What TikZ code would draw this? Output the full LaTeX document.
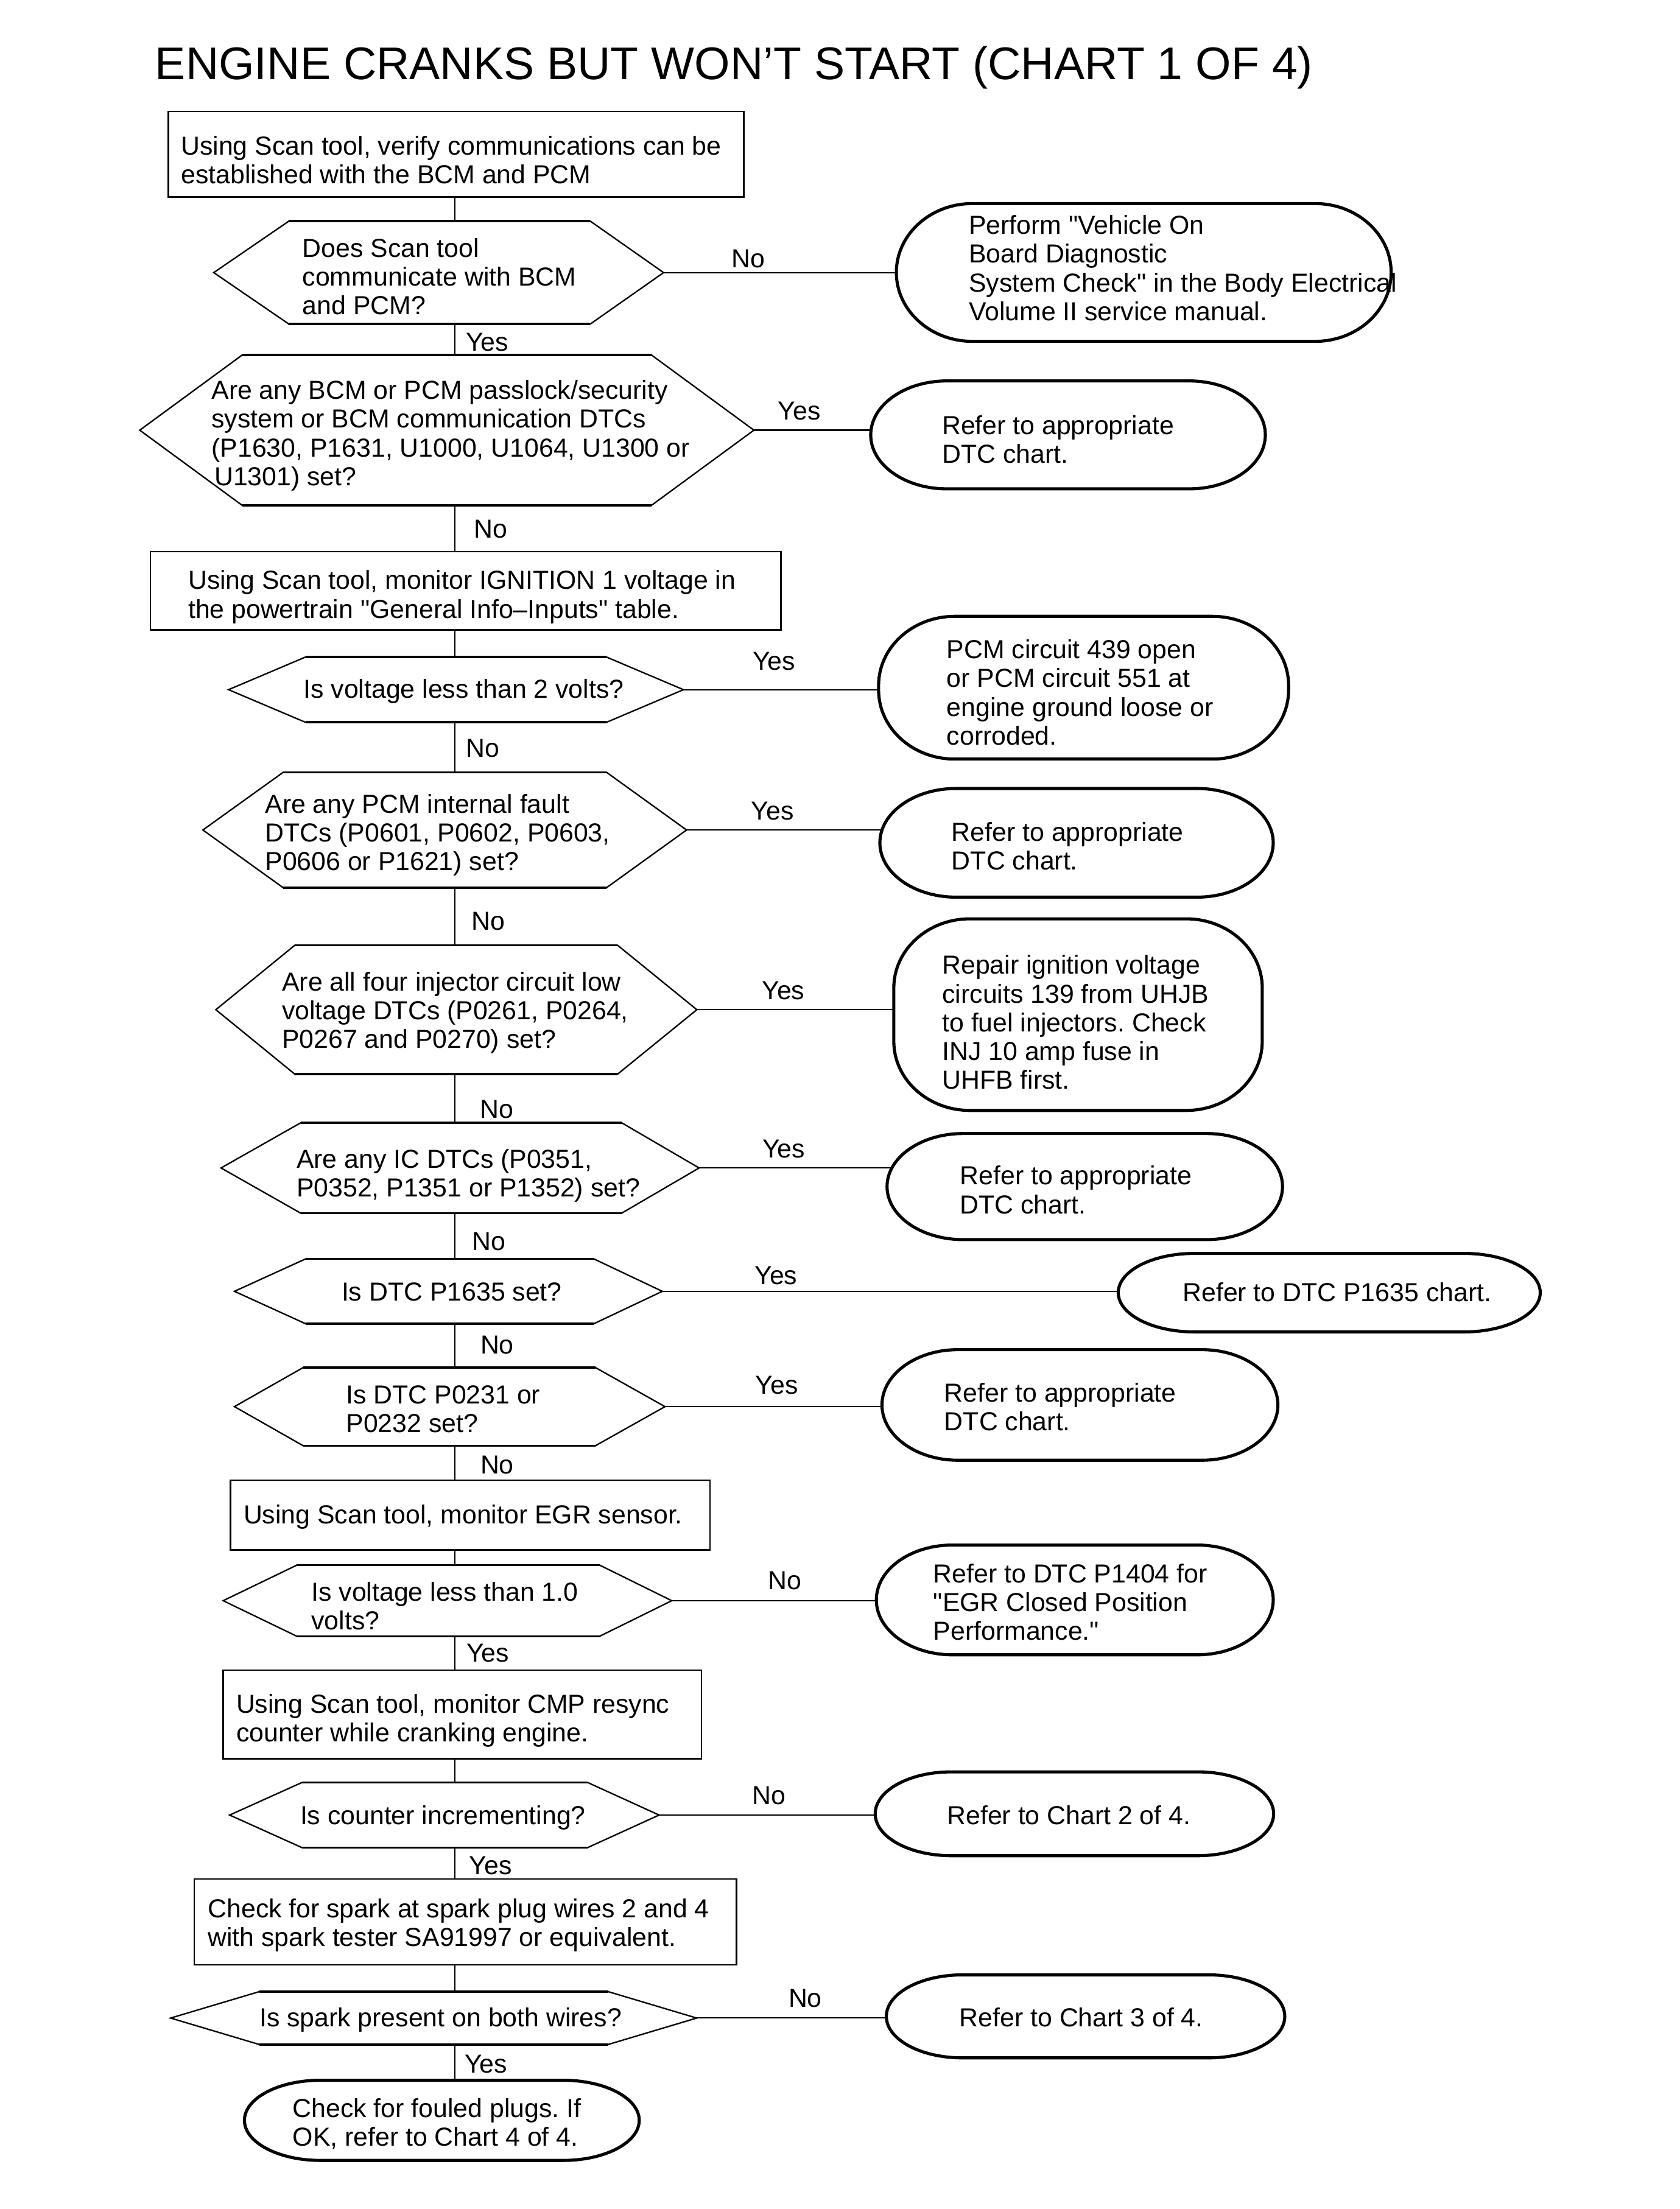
\documentclass[tikz,border=0pt]{standalone}
\usepackage{fontspec}
\setmainfont{Liberation Sans}[Ligatures=TeXOff]
\frenchspacing
\newcommand\myBody{\fontsize{18.5}{20.4}\selectfont\frenchspacing}
\newcommand\myTitle{\fontsize{32.5}{38}\selectfont}
\tikzset{
  conn/.style={line width=0.9pt},
  rectbox/.style={draw, line width=1.1pt, inner sep=0pt, outer sep=0pt},
  hexcore/.style={inner sep=0pt, outer sep=0pt},
  hexline/.style={line width=1pt, line join=miter},
  hexedge/.style={line width=1.6pt},
  termcore/.style={inner sep=0pt, outer sep=0pt},
  termline/.style={line width=2.2pt},
  txt/.style={font=\myBody, align=left, inner sep=0pt, anchor=base west},
  lbl/.style={font=\myBody, inner sep=0pt, anchor=base west},
  ttl/.style={font=\myTitle, inner sep=0pt, anchor=base west},
}
\newcommand\hexdraw[1]{%
  \draw[hexline] (#1.north west) -- (#1.north east) -- (#1e) -- (#1.south east)
     -- (#1.south west) -- (#1w) -- cycle;
  \draw[hexedge] (#1.north west) -- (#1.north east) (#1.south west) -- (#1.south east);}
\newcommand\termdraw[3]{%
  \draw[termline] ([xshift=#2]#1.north west) -- ([xshift=-#2]#1.north east)
    arc[start angle=90, end angle=0, x radius=#2, y radius=#3]
    -- ([yshift=#3]#1.south east)
    arc[start angle=0, end angle=-90, x radius=#2, y radius=#3]
    -- ([xshift=#2]#1.south west)
    arc[start angle=270, end angle=180, x radius=#2, y radius=#3]
    -- ([yshift=-#3]#1.north west)
    arc[start angle=180, end angle=90, x radius=#2, y radius=#3]
    -- cycle;}
\begin{document}
\begin{tikzpicture}[x=1pt, y=-1pt]
\fill[white] (0,0) rectangle (1192,1568);
\useasboundingbox (0,0) rectangle (1192,1568);
\coordinate (spine) at (322.8,0);

\node[ttl] (title) at (110,56.5) {ENGINE CRANKS BUT WON’T START (CHART 1 OF 4)};

% ---- box 1
\node[rectbox, minimum width=408.6, minimum height=60.8] (b1) at (323.7,109.4) {};
\node[txt] (b1t) at (128.3,130.3) {Using Scan tool, verify communications can be\\established with the BCM and PCM};

% ---- hex 1
\node[hexcore, minimum width=214, minimum height=73] (h1) at (312,193.5) {};
\coordinate (h1w) at (151.7,193.5); \coordinate (h1e) at (471,193.5);
\hexdraw{h1}
\node[txt] (h1t) at (214.5,223.3) {Does Scan tool\\communicate with BCM\\and PCM?};

\node[termcore, minimum width=351.2, minimum height=97.8] (t1) at (811.8,193.4) {};
\termdraw{t1}{54pt}{48.9pt}
\node[txt] (t1t) at (687.5,227.5) {Perform "Vehicle On\\Board Diagnostic\\System Check" in the Body Electrical\\Volume II service manual.};
\draw[conn] (h1e) -- ([xshift=1pt]h1e -| t1.west);
\node[lbl] (l1) at (519,190.1) {No};

% ---- hex 2
\node[hexcore, minimum width=290.5, minimum height=106.7] (h2) at (317.15,305.35) {};
\coordinate (h2w) at (99.2,305.35); \coordinate (h2e) at (535.1,305.35);
\hexdraw{h2}
\node[txt] (h2t) at (150,344.6) {Are any BCM or PCM passlock/security\\system or BCM communication DTCs\\(P1630, P1631, U1000, U1064, U1300 or\\\hspace*{2pt}U1301) set?};

\node[termcore, minimum width=280.1, minimum height=76.6] (t2) at (758.05,308.7) {};
\termdraw{t2}{54pt}{38.3pt}
\node[txt] (t2t) at (668.5,328.6) {Refer to appropriate\\DTC chart.};
\draw[conn] (h2e) -- ([xshift=1pt]h2e -| t2.west);
\node[lbl] (l2) at (552,298.2) {Yes};

% ---- box 3
\node[rectbox, minimum width=447.5, minimum height=55.5] (b3) at (330.45,419.25) {};
\node[txt] (b3t) at (133.4,438.7) {Using Scan tool, monitor IGNITION 1 voltage in\\the powertrain "General Info–Inputs" table.};

% ---- hex 3
\node[hexcore, minimum width=213.7, minimum height=46.3] (h3) at (323.65,489.55) {};
\coordinate (h3w) at (162.2,489.55); \coordinate (h3e) at (485.1,489.55);
\hexdraw{h3}
\node[txt] (h3t) at (215.3,495.5) {Is voltage less than 2 volts?};

\node[termcore, minimum width=291, minimum height=101.3] (t3) at (769.1,488.15) {};
\termdraw{t3}{54pt}{49pt}
\node[txt] (t3t) at (671.8,528.7) {PCM circuit 439 open\\or PCM circuit 551 at\\engine ground loose or\\corroded.};
\draw[conn] (h3e) -- ([xshift=1pt]h3e -| t3.west);
\node[lbl] (l3) at (534,475.5) {Yes};

% ---- hex 4
\node[hexcore, minimum width=229.5, minimum height=81.9] (h4) at (315.75,589.15) {};
\coordinate (h4w) at (144,589.15); \coordinate (h4e) at (487.3,589.15);
\hexdraw{h4}
\node[txt] (h4t) at (188,617.8) {Are any PCM internal fault\\DTCs (P0601, P0602, P0603,\\P0606 or P1621) set?};

\node[termcore, minimum width=279.2, minimum height=77.1] (t4) at (764.1,598.25) {};
\termdraw{t4}{54pt}{38.55pt}
\node[txt] (t4t) at (675.3,617.4) {Refer to appropriate\\DTC chart.};
\draw[conn] (h4e) -- ([xshift=2pt]h4e -| t4.west);
\node[lbl] (l4) at (533,582) {Yes};

% ---- hex 5
\node[hexcore, minimum width=229.2, minimum height=91.4] (h5) at (323.8,716.7) {};
\coordinate (h5w) at (153.2,716.7); \coordinate (h5e) at (494.6,716.7);
\hexdraw{h5}
\node[txt] (h5t) at (200,744) {Are all four injector circuit low\\voltage DTCs (P0261, P0264,\\P0267 and P0270) set?};

\node[termcore, minimum width=261.5, minimum height=136] (t5) at (765.15,720.2) {};
\termdraw{t5}{54pt}{49pt}
\node[txt] (t5t) at (668.6,773.1) {Repair ignition voltage\\circuits 139 from UHJB\\to fuel injectors. Check\\INJ 10 amp fuse in\\UHFB first.};
\draw[conn] (h5e) -- ([xshift=1pt]h5e -| t5.west);
\node[lbl] (l5) at (540.7,709.5) {Yes};

% ---- hex 6
\node[hexcore, minimum width=227.9, minimum height=64.1] (h6) at (327.35,829.05) {};
\coordinate (h6w) at (156.9,829.05); \coordinate (h6e) at (496.2,829.05);
\hexdraw{h6}
\node[txt] (h6t) at (210.3,849.4) {Are any IC DTCs (P0351,\\P0352, P1351 or P1352) set?};

\node[termcore, minimum width=280.7, minimum height=75.3] (t6) at (769.95,842.25) {};
\termdraw{t6}{54pt}{37.65pt}
\node[txt] (t6t) at (681.2,861.4) {Refer to appropriate\\DTC chart.};
\draw[conn] (h6e) -- ([xshift=3.6pt]h6e -| t6.west);
\node[lbl] (l6) at (541,822) {Yes};

% ---- hex 7
\node[hexcore, minimum width=204.2, minimum height=46.2] (h7) at (319.2,916.6) {};
\coordinate (h7w) at (166.4,916.6); \coordinate (h7e) at (470.1,916.6);
\hexdraw{h7}
\node[txt] (h7t) at (242.3,923.2) {Is DTC P1635 set?};

\node[termcore, minimum width=299.5, minimum height=55.7] (t7) at (943.45,917.55) {};
\termdraw{t7}{54pt}{27.85pt}
\node[txt] (t7t) at (839.3,924) {Refer to DTC P1635 chart.};
\draw[conn] (h7e) -- ([xshift=1pt]h7e -| t7.west);
\node[lbl] (l7) at (535.5,911.9) {Yes};

% ---- hex 8
\node[hexcore, minimum width=207.4, minimum height=55.5] (h8) at (318.9,998.45) {};
\coordinate (h8w) at (166.4,998.45); \coordinate (h8e) at (472,998.45);
\hexdraw{h8}
\node[txt] (h8t) at (245.5,1016.9) {Is DTC P0231 or\\P0232 set?};

\node[termcore, minimum width=281, minimum height=78.5] (t8) at (766.5,997.25) {};
\termdraw{t8}{54pt}{39.25pt}
\node[txt] (t8t) at (670.1,1015.4) {Refer to appropriate\\DTC chart.};
\draw[conn] (h8e) -- ([xshift=1pt]h8e -| t8.west);
\node[lbl] (l8) at (536,989.7) {Yes};

% ---- box 9
\node[rectbox, minimum width=340.2, minimum height=49.5] (b9) at (333.8,1075.45) {};
\node[txt] (b9t) at (172.7,1081.5) {Using Scan tool, monitor EGR sensor.};

% ---- hex 10
\node[hexcore, minimum width=214.7, minimum height=50.6] (h10) at (318.15,1136.2) {};
\coordinate (h10w) at (158.4,1136.2); \coordinate (h10e) at (476.8,1136.2);
\hexdraw{h10}
\node[txt] (h10t) at (220.9,1156.8) {Is voltage less than 1.0\\volts?};

\node[termcore, minimum width=281.7, minimum height=77.9] (t10) at (762.85,1135.65) {};
\termdraw{t10}{54pt}{38.95pt}
\node[txt] (t10t) at (662.3,1164.3) {Refer to DTC P1404 for\\"EGR Closed Position\\Performance."};
\draw[conn] (h10e) -- ([xshift=1pt]h10e -| t10.west);
\node[lbl] (l10) at (545,1128.3) {No};

% ---- box 11
\node[rectbox, minimum width=339.4, minimum height=63] (b11) at (328.1,1216.9) {};
\node[txt] (b11t) at (167.5,1236.2) {Using Scan tool, monitor CMP resync\\counter while cranking engine.};

% ---- hex 12
\node[hexcore, minimum width=202.6, minimum height=46.3] (h12) at (315.7,1288.35) {};
\coordinate (h12w) at (163,1288.35); \coordinate (h12e) at (467.8,1288.35);
\hexdraw{h12}
\node[txt] (h12t) at (212.9,1295.2) {Is counter incrementing?};

\node[termcore, minimum width=282.8, minimum height=59.5] (t12) at (762.6,1287.45) {};
\termdraw{t12}{54pt}{29.75pt}
\node[txt] (t12t) at (672.1,1295.2) {Refer to Chart 2 of 4.};
\draw[conn] (h12e) -- ([xshift=1pt]h12e -| t12.west);
\node[lbl] (l12) at (533.8,1280.7) {No};

% ---- box 13
\node[rectbox, minimum width=384.9, minimum height=60.9] (b13) at (330.35,1364.15) {};
\node[txt] (b13t) at (147.4,1381.5) {Check for spark at spark plug wires 2 and 4\\with spark tester SA91997 or equivalent.};

% ---- hex 14
\node[hexcore, minimum width=247.7, minimum height=37.5] (h14) at (307.85,1432.45) {};
\coordinate (h14w) at (121.1,1432.45); \coordinate (h14e) at (494.5,1432.45);
\hexdraw{h14}
\node[txt] (h14t) at (184,1438.5) {Is spark present on both wires?};

\node[termcore, minimum width=282.8, minimum height=58.9] (t14) at (770.5,1431.25) {};
\termdraw{t14}{54pt}{29.45pt}
\node[txt] (t14t) at (680.9,1438.5) {Refer to Chart 3 of 4.};
\draw[conn] (h14e) -- ([xshift=1pt]h14e -| t14.west);
\node[lbl] (l14) at (559.5,1424.5) {No};

% ---- terminal 15
\node[termcore, minimum width=280.2, minimum height=56.9] (t15) at (313.6,1505.05) {};
\termdraw{t15}{54pt}{28.45pt}
\node[txt] (t15t) at (207.6,1523.3) {Check for fouled plugs. If\\OK, refer to Chart 4 of 4.};

% ---- vertical spine connectors
\draw[conn] (b1.south -| spine) -- (h1.north -| spine);
\draw[conn] (h1.south -| spine) -- (h2.north -| spine);
\draw[conn] (h2.south -| spine) -- (b3.north -| spine);
\draw[conn] (b3.south -| spine) -- (h3.north -| spine);
\draw[conn] (h3.south -| spine) -- (h4.north -| spine);
\draw[conn] (h4.south -| spine) -- (h5.north -| spine);
\draw[conn] (h5.south -| spine) -- (h6.north -| spine);
\draw[conn] (h6.south -| spine) -- (h7.north -| spine);
\draw[conn] (h7.south -| spine) -- (h8.north -| spine);
\draw[conn] (h8.south -| spine) -- (b9.north -| spine);
\draw[conn] (b9.south -| spine) -- (h10.north -| spine);
\draw[conn] (h10.south -| spine) -- (b11.north -| spine);
\draw[conn] (b11.south -| spine) -- (h12.north -| spine);
\draw[conn] (h12.south -| spine) -- (b13.north -| spine);
\draw[conn] (b13.south -| spine) -- (h14.north -| spine);
\draw[conn] (h14.south -| spine) -- (t15.north -| spine);

% ---- spine labels
\node[lbl] (v1) at (330.5,249.3) {Yes};
\node[lbl] (v2) at (336.2,381.9) {No};
\node[lbl] (v3) at (330.8,537.5) {No};
\node[lbl] (v4) at (334.4,660) {No};
\node[lbl] (v5) at (340.5,793.5) {No};
\node[lbl] (v6) at (335,887.5) {No};
\node[lbl] (v7) at (340.8,960.9) {No};
\node[lbl] (v8) at (340.8,1045.9) {No};
\node[lbl] (v10) at (331,1179.6) {Yes};
\node[lbl] (v12) at (333,1330.3) {Yes};
\node[lbl] (v14) at (329.6,1471.2) {Yes};
\end{tikzpicture}
\end{document}
